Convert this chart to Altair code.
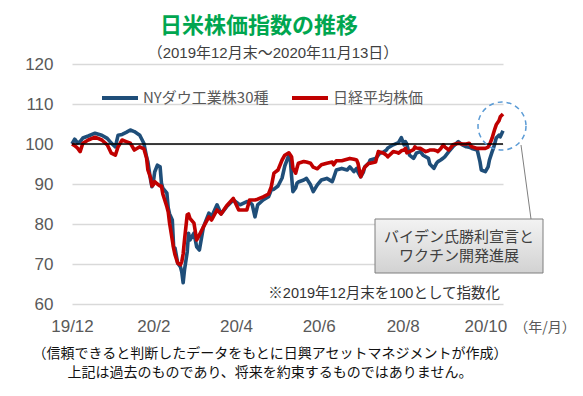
import altair as alt
import pandas as pd

# ---------------- data ----------------
DATES = [
    "2019-12-31", "2020-01-02", "2020-01-04", "2020-01-06", "2020-01-08", "2020-01-12", "2020-01-17", "2020-01-22", "2020-01-26", "2020-01-29",
    "2020-02-01", "2020-02-03", "2020-02-06", "2020-02-09", "2020-02-12", "2020-02-15", "2020-02-19", "2020-02-22", "2020-02-24", "2020-02-25",
    "2020-02-27", "2020-02-28", "2020-02-29", "2020-03-01", "2020-03-03", "2020-03-05", "2020-03-06", "2020-03-07", "2020-03-10", "2020-03-11",
    "2020-03-12", "2020-03-14", "2020-03-15", "2020-03-16", "2020-03-18", "2020-03-20", "2020-03-21", "2020-03-22", "2020-03-23", "2020-03-25",
    "2020-03-26", "2020-03-27", "2020-03-30", "2020-04-01", "2020-04-03", "2020-04-06", "2020-04-10", "2020-04-12", "2020-04-16", "2020-04-19",
    "2020-04-23", "2020-04-28", "2020-05-02", "2020-05-03", "2020-05-08", "2020-05-10", "2020-05-12", "2020-05-14", "2020-05-16", "2020-05-20",
    "2020-05-24", "2020-05-26", "2020-05-28", "2020-05-31", "2020-06-03", "2020-06-05", "2020-06-08", "2020-06-09", "2020-06-10", "2020-06-11",
    "2020-06-13", "2020-06-14", "2020-06-15", "2020-06-19", "2020-06-21", "2020-06-24", "2020-06-26", "2020-06-29", "2020-07-02", "2020-07-06",
    "2020-07-10", "2020-07-11", "2020-07-13", "2020-07-17", "2020-07-21", "2020-07-23", "2020-07-26", "2020-07-28", "2020-07-29", "2020-07-31",
    "2020-08-02", "2020-08-03", "2020-08-06", "2020-08-07", "2020-08-11", "2020-08-13", "2020-08-14", "2020-08-17", "2020-08-19", "2020-08-20",
    "2020-08-24", "2020-08-27", "2020-08-28", "2020-08-30", "2020-09-01", "2020-09-02", "2020-09-03", "2020-09-05", "2020-09-08", "2020-09-09",
    "2020-09-10", "2020-09-13", "2020-09-15", "2020-09-17", "2020-09-19", "2020-09-20", "2020-09-23", "2020-09-25", "2020-09-26", "2020-09-28",
    "2020-09-30", "2020-10-01", "2020-10-04", "2020-10-07", "2020-10-11", "2020-10-14", "2020-10-17", "2020-10-19", "2020-10-21", "2020-10-25",
    "2020-10-27", "2020-10-28", "2020-10-31", "2020-11-02", "2020-11-03", "2020-11-05", "2020-11-06", "2020-11-07", "2020-11-08", "2020-11-10",
    "2020-11-11", "2020-11-13",
]

DOW = [
    100.0, 101.2, 100.3, 100.6, 101.5, 102.0, 102.7, 102.2, 101.4, 100.2,
    99.3, 102.2, 102.4, 102.9, 103.5, 103.1, 102.2, 100.2, 96.8, 95.5,
    91.0, 89.3, 90.5, 93.0, 94.7, 94.3, 90.2, 89.0, 87.7, 84.0,
    82.5, 81.0, 74.3, 74.0, 70.2, 69.3, 68.0, 65.3, 68.5, 73.0,
    77.7, 76.0, 77.7, 74.3, 73.5, 79.3, 82.7, 81.8, 84.8, 82.5,
    84.3, 86.0, 85.0, 84.8, 85.6, 85.5, 84.8, 81.8, 84.8, 86.0,
    86.8, 88.5, 88.7, 89.5, 91.5, 94.5, 97.2, 96.4, 92.0, 88.1,
    89.0, 90.2, 90.5, 91.0, 91.4, 89.8, 88.1, 89.8, 91.0, 91.4,
    90.6, 91.5, 93.5, 93.9, 93.5, 94.3, 93.1, 93.9, 93.0, 91.8,
    93.0, 94.3, 95.2, 96.0, 96.4, 97.2, 97.7, 98.0, 98.5, 99.0,
    99.8, 100.2, 100.4, 101.6, 99.8, 100.6, 100.0, 97.2, 96.4, 97.0,
    97.7, 98.1, 97.2, 96.8, 96.4, 95.0, 93.9, 95.2, 95.6, 96.0,
    96.5, 96.8, 98.1, 99.3, 100.6, 99.8, 99.3, 99.2, 98.9, 98.5,
    95.6, 93.5, 93.1, 94.3, 96.0, 98.1, 99.0, 100.2, 101.5, 102.2,
    101.8, 103.3,
]

NIKKEI = [
    100.0, 99.6, 99.0, 98.1, 100.2, 101.0, 101.7, 101.0, 99.8, 97.7,
    97.2, 99.3, 101.0, 100.6, 100.2, 98.5, 99.3, 98.8, 96.5, 93.5,
    91.5, 89.5, 89.8, 90.6, 90.0, 89.5, 89.5, 87.5, 84.3, 83.0,
    80.2, 76.0, 73.9, 72.3, 70.2, 69.8, 70.6, 72.5, 76.0, 82.3,
    82.5, 81.4, 80.2, 76.0, 77.3, 79.3, 81.8, 81.0, 83.5, 82.5,
    84.5, 86.4, 83.5, 83.5, 83.5, 86.0, 86.0, 86.0, 86.2, 86.8,
    87.5, 89.3, 92.7, 93.5, 96.0, 97.2, 97.8, 97.3, 96.8, 94.0,
    92.7, 94.0, 95.2, 95.6, 95.5, 95.2, 94.2, 93.8, 94.8, 95.2,
    95.5, 94.8, 95.8, 95.8, 96.2, 96.4, 96.2, 96.0, 95.2, 91.8,
    93.5, 94.2, 95.2, 95.2, 95.5, 98.1, 98.0, 97.7, 97.2, 96.8,
    98.1, 97.9, 97.7, 98.3, 98.5, 98.9, 97.8, 98.1, 98.6, 99.3,
    99.0, 98.9, 98.5, 98.1, 98.3, 98.5, 98.5, 98.3, 98.1, 98.8,
    99.8, 99.3, 98.5, 99.8, 100.2, 100.0, 100.0, 100.2, 99.3, 98.9,
    98.9, 98.9, 98.9, 99.2, 99.8, 101.5, 102.7, 103.8, 104.8, 105.8,
    106.8, 107.5,
]

SERIES = ["NYダウ工業株30種", "日経平均株価"]
COLORS = ["#1F4E79", "#C00000"]
Y_TICKS = [60, 70, 80, 90, 100, 110, 120]
BASE_VALUE = [100]
X_TICK_DATES = [(2019, 12, 31), (2020, 2, 29), (2020, 4, 30), (2020, 6, 30), (2020, 8, 31), (2020, 10, 31)]
X_DOMAIN = [(2019, 12, 31), (2020, 11, 13)]

TITLE = "日米株価指数の推移"
SUBTITLE = "（2019年12月末～2020年11月13日）"
X_UNIT = "（年/月）"
NOTE = "※2019年12月末を100として指数化"
BOX_LINES = ["バイデン氏勝利宣言と", "ワクチン開発進展"]
SOURCE_LINES = [
    "（信頼できると判断したデータをもとに日興アセットマネジメントが作成）",
    "上記は過去のものであり、将来を約束するものではありません。",
]

assert len(DATES) == len(DOW) == len(NIKKEI)

FONT = "'Liberation Sans', 'Noto Sans CJK JP', sans-serif"
JFONT = "'Noto Sans CJK JP', sans-serif"
W, H = 431, 240


def dt(t):
    return alt.DateTime(year=t[0], month=t[1], date=t[2], utc=True)


df_dow = pd.DataFrame({"date": DATES, "value": DOW, "series": SERIES[0]})
df_nk = pd.DataFrame({"date": DATES, "value": NIKKEI, "series": SERIES[1]})

x_enc = alt.X(
    "date:T",
    scale=alt.Scale(type="utc", domain=[dt(X_DOMAIN[0]), dt(X_DOMAIN[1])]),
    axis=alt.Axis(
        values=[dt(t) for t in X_TICK_DATES],
        labelExpr="utcFormat(datum.value, '%y') + '/' + (utcmonth(datum.value) + 1)",
        grid=False, domain=False, ticks=False, labelFlush=False, labelOverlap=False,
        labelPadding=14, labelFontSize=17, labelColor="#595959", labelFont=FONT, title=None,
    ),
)
y_axis = alt.Axis(
    values=Y_TICKS, title=None, domain=False, ticks=False, labelPadding=19,
    labelOverlap=False, labelFlush=False,
    labelFontSize=17, labelColor="#595959", labelFont=FONT,
    gridColor="#d9d9d9", gridWidth=1.3,
)
y_scale = alt.Scale(domain=[Y_TICKS[0], Y_TICKS[-1]], nice=False, zero=False)
y_enc = alt.Y("value:Q", scale=y_scale, axis=y_axis)

legend = alt.Legend(
    orient="none", legendX=28, legendY=14, direction="horizontal", title=None,
    symbolType="stroke", symbolSize=1296, symbolStrokeWidth=4,
    labelFontSize=15, labelColor="#595959", labelFont=JFONT,
    labelOffset=3, columnPadding=15,
)
color_enc = alt.Color("series:N", scale=alt.Scale(domain=SERIES, range=COLORS), legend=legend)

line_dow = alt.Chart(df_dow).mark_line(strokeWidth=3.6, strokeJoin="round").encode(x=x_enc, y=y_enc, color=color_enc)
line_nk = alt.Chart(df_nk).mark_line(strokeWidth=3.6, strokeJoin="round").encode(x=x_enc, y=y_enc, color=color_enc)

base_rule = alt.Chart(pd.DataFrame({"value": BASE_VALUE})).mark_rule(
    color="black", strokeWidth=1.5
).encode(y=y_enc)


def one():
    return alt.Chart(pd.DataFrame({"t": [""]}))


def txt(s, x, y, size, color, font=JFONT, weight="normal", align="center"):
    return alt.Chart(pd.DataFrame({"t": [s]})).mark_text(
        font=font, fontSize=size, color=color, fontWeight=weight, align=align, baseline="middle"
    ).encode(x=alt.value(x), y=alt.value(y), text="t:N")


circle = one().mark_point(
    shape="circle", size=2304, filled=False, stroke="#5B9BD5", strokeWidth=1.5,
    strokeDash=[5, 4], opacity=1,
).encode(x=alt.value(430), y=alt.value(62))

connector = one().mark_rule(color="#7f7f7f", strokeWidth=1).encode(
    x=alt.value(449), x2=alt.value(459), y=alt.value(81), y2=alt.value(155)
)

box = one().mark_rect(
    fill=alt.Gradient(
        gradient="linear",
        stops=[alt.GradientStop(color="#f3f3f3", offset=0), alt.GradientStop(color="#d2d2d2", offset=1)],
        x1=0, x2=0, y1=0, y2=1,
    ),
    stroke="#7f7f7f", strokeWidth=1,
).encode(x=alt.value(303), x2=alt.value(471), y=alt.value(155), y2=alt.value(209))

layers = [
    line_dow, line_nk, base_rule, circle, connector, box,
    txt(BOX_LINES[0], 387, 173, 15, "#404040"),
    txt(BOX_LINES[1], 387, 192, 15, "#404040"),
    txt(TITLE, 187, -38, 22, "#00A650", weight="bold"),
    txt(SUBTITLE, 201, -11, 15, "#404040", font=FONT),
    txt(NOTE, 428, 230, 14.5, "#333333", font=FONT, align="right"),
    txt(X_UNIT, 473, 264, 14, "#595959"),
    txt(SOURCE_LINES[0], 198, 290, 14, "#111111"),
    txt(SOURCE_LINES[1], 198, 309, 14, "#111111"),
]

chart = alt.layer(*layers).properties(
    width=W, height=H,
    autosize=alt.AutoSizeParams(type="none"),
    padding={"left": 64, "top": 56, "right": 72, "bottom": 84},
    background="white",
).configure_view(strokeWidth=0)

chart.save("out.html", embed_options={"renderer": "svg", "actions": False})
